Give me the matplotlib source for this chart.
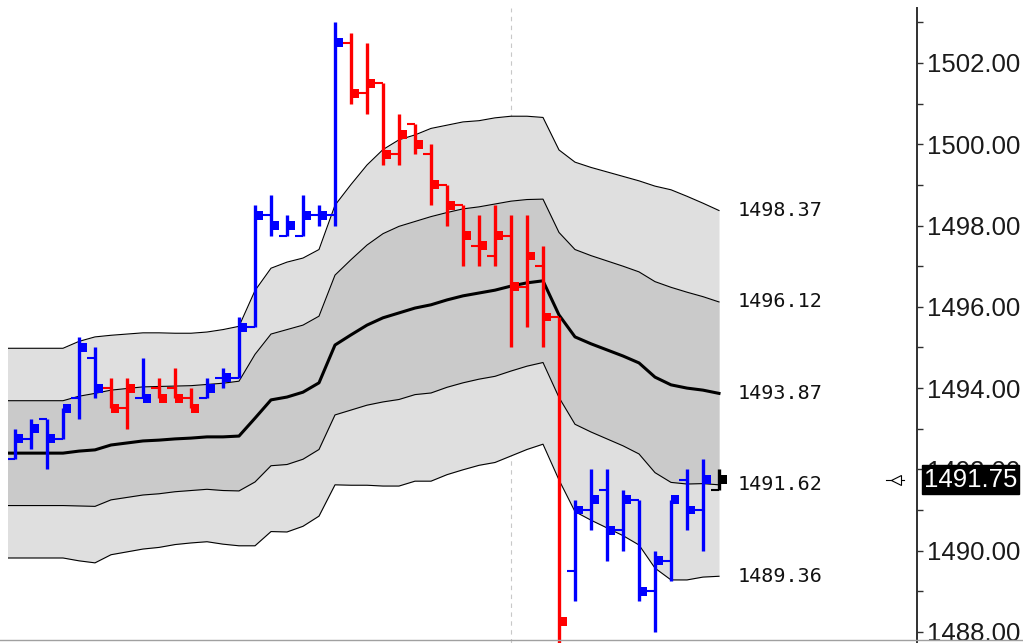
import numpy as np
import matplotlib
matplotlib.use('Agg')
import matplotlib.pyplot as plt
from matplotlib.patches import Rectangle
from matplotlib.lines import Line2D
from matplotlib.ticker import MultipleLocator, FormatStrFormatter

plt.rcParams['font.family'] = ['Liberation Sans', 'DejaVu Sans']

# OHLC bars, oldest first
opens = [1492.25, 1492.75, 1493.25, 1492.75, 1493.75, 1494.75, 1494.00, 1493.50, 1493.75, 1494.00,
         1494.00, 1493.75, 1493.75, 1494.25, 1494.25, 1495.50, 1498.25, 1497.75, 1497.75, 1498.25,
         1498.25, 1502.50, 1501.25, 1501.50, 1499.75, 1500.50, 1499.75, 1499.00, 1498.50, 1497.50,
         1497.25, 1497.75, 1496.50, 1497.00, 1495.75, 1489.50, 1491.00, 1491.50, 1490.50, 1491.25,
         1489.00, 1489.75, 1491.75, 1491.00, 1491.50]
highs = [1493.00, 1493.25, 1493.25, 1493.50, 1495.25, 1495.00, 1494.25, 1494.25, 1494.75, 1494.25,
         1494.50, 1494.00, 1494.25, 1494.50, 1495.75, 1498.50, 1498.75, 1498.25, 1498.75, 1498.50,
         1503.00, 1502.75, 1502.50, 1501.50, 1500.75, 1500.50, 1500.00, 1499.00, 1498.50, 1498.25,
         1498.50, 1498.25, 1498.25, 1497.50, 1495.75, 1491.25, 1492.00, 1492.00, 1491.50, 1491.25,
         1490.00, 1491.25, 1492.00, 1492.25, 1492.00]
lows = [1492.25, 1492.50, 1492.00, 1492.75, 1493.25, 1493.75, 1493.50, 1493.00, 1493.75, 1493.75,
        1493.75, 1493.50, 1493.75, 1494.00, 1494.25, 1495.50, 1497.75, 1497.75, 1497.75, 1498.00,
        1498.00, 1501.00, 1500.75, 1499.50, 1499.50, 1499.75, 1498.50, 1498.00, 1497.00, 1497.00,
        1497.00, 1495.00, 1495.50, 1495.00, 1487.50, 1488.75, 1490.50, 1489.75, 1490.00, 1488.75,
        1488.00, 1489.25, 1490.50, 1490.00, 1491.50]
closes = [1492.75, 1493.00, 1492.75, 1493.50, 1495.00, 1494.00, 1493.50, 1494.00, 1493.75, 1493.75,
          1493.75, 1493.50, 1494.00, 1494.25, 1495.50, 1498.25, 1498.00, 1498.00, 1498.25, 1498.25,
          1502.50, 1501.25, 1501.50, 1499.75, 1500.25, 1500.00, 1499.00, 1498.50, 1497.75, 1497.50,
          1497.75, 1496.50, 1497.25, 1495.75, 1488.25, 1491.00, 1491.25, 1490.50, 1491.25, 1489.00,
          1489.75, 1491.25, 1491.00, 1491.75, 1491.75]
bar_colors = "b" * 6 + "r" * 2 + "b" + "r" * 3 + "b" * 9 + "r" * 14 + "b" * 9 + "k"

# band middle and spacing, starting one bar before the first visible bar
band_mid = [1492.40, 1492.40, 1492.40, 1492.40, 1492.40, 1492.45, 1492.48, 1492.60, 1492.65, 1492.70,
            1492.72, 1492.75, 1492.77, 1492.80, 1492.80, 1492.82, 1493.26, 1493.71, 1493.78, 1493.90,
            1494.13, 1495.06, 1495.31, 1495.55, 1495.73, 1495.85, 1495.97, 1496.05, 1496.17, 1496.27,
            1496.34, 1496.41, 1496.51, 1496.59, 1496.64, 1495.80, 1495.26, 1495.09, 1494.94, 1494.79,
            1494.62, 1494.27, 1494.08, 1494.00, 1493.95, 1493.87]
band_dev = [1.29, 1.29, 1.29, 1.29, 1.29, 1.35, 1.39, 1.35, 1.34, 1.33,
            1.32, 1.30, 1.29, 1.29, 1.32, 1.35, 1.57, 1.62, 1.66, 1.65,
            1.64, 1.72, 1.85, 1.97, 2.07, 2.13, 2.13, 2.17, 2.15, 2.14,
            2.12, 2.12, 2.09, 2.05, 2.01, 2.03, 2.15, 2.17, 2.19, 2.21,
            2.24, 2.35, 2.40, 2.36, 2.30, 2.25]
band_labels = [1498.37, 1496.12, 1493.87, 1491.62, 1489.36]
session_break = 31
last_price = 1491.75

COLORS = {"b": "#0000ff", "r": "#ff0000", "k": "#000000"}

fig = plt.figure(figsize=(10.23, 6.43), dpi=100)
ax = fig.add_axes([8 / 1023, 0, 909 / 1023, 635 / 643])
ax.set_xlim(-0.4375, 56.375)
ax.set_ylim(1487.728, 1503.353)

# bands
bx = np.arange(-1, len(band_mid) - 1)
mid = np.array(band_mid)
dev = np.array(band_dev)
ax.fill_between(bx, mid - 2 * dev, mid + 2 * dev, color="#dfdfdf", lw=0, zorder=1)
ax.fill_between(bx, mid - dev, mid + dev, color="#cacaca", lw=0, zorder=1)
for k in (-2, -1, 1, 2):
    ax.plot(bx, mid + k * dev, color="k", lw=0.8, zorder=2)
ax.plot(bx, mid, color="k", lw=2.2, zorder=2)

ax.axvline(session_break, color="#c8c8c8", ls=(0, (4, 4)), lw=0.8, zorder=0)

# bars: high-low line, open tick on the left, close block on the right
sq_w, sq_h = 0.5, 0.22
for i in range(len(opens)):
    c = COLORS[bar_colors[i]]
    ax.vlines(i, lows[i], highs[i], color=c, lw=2.4, zorder=4)
    ax.hlines(opens[i], i - 0.5, i, color=c, lw=1.5, zorder=4)
    ax.add_patch(Rectangle((i, closes[i] - sq_h / 2), sq_w, sq_h, color=c, lw=0, zorder=4))

# band value labels
for v in band_labels:
    ax.text(0.803, v, "%.2f" % v, transform=ax.get_yaxis_transform(), ha="left", va="center",
            fontsize=14.5, family="DejaVu Sans Mono", color="#111111")

# right price axis
ax.yaxis.tick_right()
ax.yaxis.set_major_locator(MultipleLocator(2))
ax.yaxis.set_minor_locator(MultipleLocator(1))
ax.yaxis.set_major_formatter(FormatStrFormatter("%.2f"))
ax.tick_params(axis="y", which="both", direction="out", length=4, width=1, color="#303030",
               labelsize=18.5, pad=3, labelcolor="#1a1a1a")
ax.set_xticks([])
for s in ("left", "top", "bottom"):
    ax.spines[s].set_visible(False)
ax.spines["right"].set_color("#303030")
ax.spines["right"].set_linewidth(1.4)
ax.patch.set_alpha(0)

# current price marker and box
yt = ax.get_yaxis_transform()
ax.plot([0.966, 0.986], [last_price, last_price], color="k", lw=0.8, transform=yt, clip_on=False)
ax.plot([0.977], [last_price], marker="<", ms=7, mfc="white", mec="k", mew=0.8,
        transform=yt, clip_on=False)
ax.text(1.0075, last_price, "%.2f" % last_price, transform=yt, ha="left", va="center",
        fontsize=18.5, color="white", zorder=10, clip_on=False,
        bbox=dict(boxstyle="square,pad=0.08", facecolor="black", edgecolor="black"))

fig.add_artist(Line2D([0, 1], [3 / 643, 3 / 643], color="#a0a0a0", lw=1, transform=fig.transFigure))

fig.savefig("out.png", dpi=100, facecolor="white")
